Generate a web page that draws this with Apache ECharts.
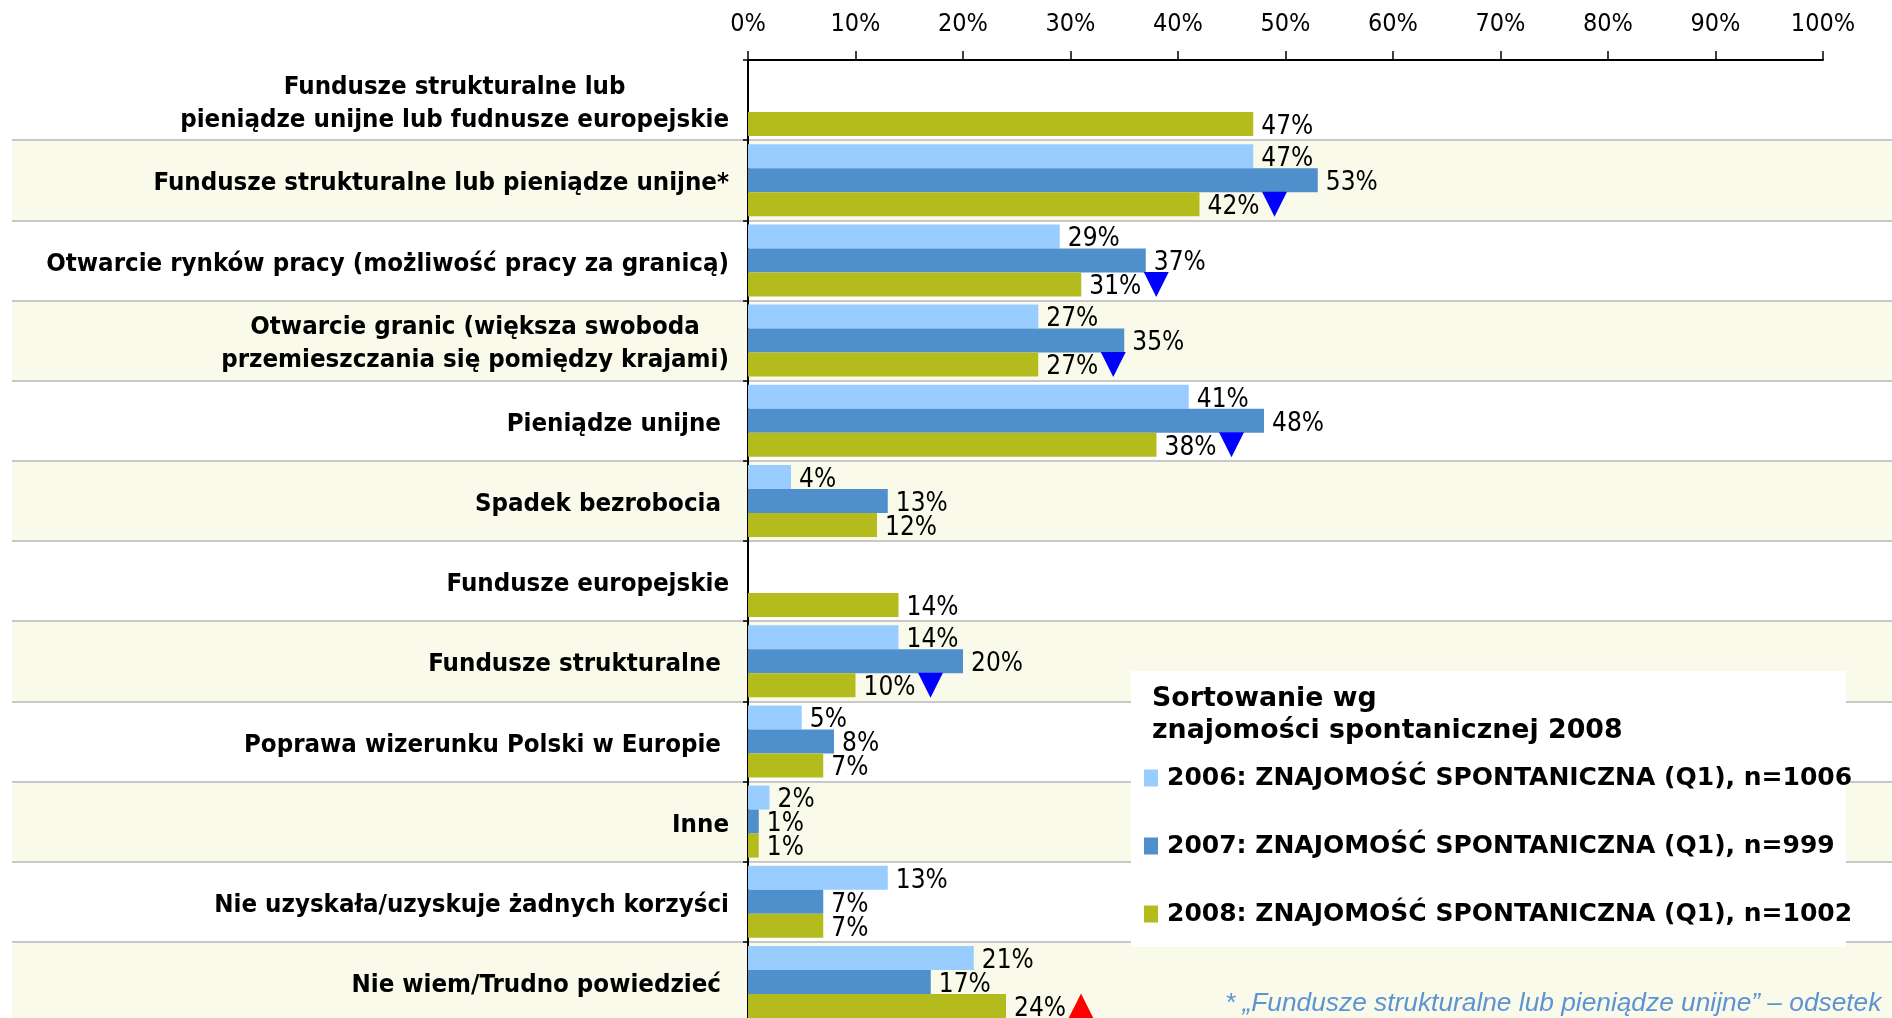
<!DOCTYPE html>
<html>

<head>
    <meta charset="utf-8" />
    <script src="https://cdn.jsdelivr.net/npm/echarts@6/dist/echarts.min.js"></script>
    <style>
        html, body { margin: 0; padding: 0; background: #fff; }
    </style>
</head>

<body>
    <div id="main" style="width: 1892px;height:1018px;"></div>
    <script type="text/javascript">
        const CATEGORIES = [
            'Fundusze strukturalne lub\npieniądze unijne lub fudnusze europejskie',
            'Fundusze strukturalne lub pieniądze unijne*',
            'Otwarcie rynków pracy (możliwość pracy za granicą)',
            'Otwarcie granic (większa swoboda\nprzemieszczania się pomiędzy krajami)',
            'Pieniądze unijne ',
            'Spadek bezrobocia ',
            'Fundusze europejskie',
            'Fundusze strukturalne ',
            'Poprawa wizerunku Polski w Europie ',
            'Inne',
            'Nie uzyskała/uzyskuje żadnych korzyści',
            'Nie wiem/Trudno powiedzieć '
        ];
        const SERIES_NAMES = [
            '2006: ZNAJOMOŚĆ SPONTANICZNA (Q1), n=1006',
            '2007: ZNAJOMOŚĆ SPONTANICZNA (Q1), n=999',
            '2008: ZNAJOMOŚĆ SPONTANICZNA (Q1), n=1002'
        ];
        const VALUES_2006 = [null, 47, 29, 27, 41, 4, null, 14, 5, 2, 13, 21];
        const VALUES_2007 = [null, 53, 37, 35, 48, 13, null, 20, 8, 1, 7, 17];
        const VALUES_2008 = [47, 42, 31, 27, 38, 12, 14, 10, 7, 1, 7, 24];
        // change of 2008 vs 2007 marked with a triangle
        const TREND_2008 = [null, 'down', 'down', 'down', 'down', null, null, 'down', null, null, null, 'up'];
        const LEGEND_TITLE = 'Sortowanie wg\nznajomości spontanicznej 2008';
        const FOOTNOTE = '* \u201EFundusze strukturalne lub pieni\u0105dze unijne\u201D \u2013 odsetek';

        const COLORS = ['#99CCFF', '#4F8FCC', '#B3BB1D'];
        const NARROW = "'DejaVu Sans Condensed', 'DejaVu Sans', sans-serif";
        const WIDE = "'DejaVu Sans', sans-serif";

        const GRID_TOP = 60;
        const GRID_BOTTOM = -4;

        function barSeries(i, values) {
            return {
                name: SERIES_NAMES[i],
                type: 'bar',
                xAxisIndex: 1,
                yAxisIndex: 1,
                barWidth: 24,
                barGap: '0%',
                itemStyle: { color: COLORS[i] },
                label: {
                    show: true,
                    position: 'right',
                    distance: 8,
                    offset: [0, 3],
                    formatter: '{c}%',
                    fontFamily: NARROW,
                    fontSize: 26,
                    color: '#000'
                },
                data: values
            };
        }

        const trendData = [];
        TREND_2008.forEach((t, i) => {
            if (!t) return;
            trendData.push({
                value: [VALUES_2008[i], CATEGORIES[i]],
                symbolRotate: t === 'down' ? 180 : 0,
                itemStyle: { color: t === 'down' ? '#0000FF' : '#FF0000', opacity: 1 }
            });
        });

        const myChart = echarts.init(document.getElementById('main'));
        myChart.setOption({
            backgroundColor: '#fff',
            animation: false,
            title: {
                text: LEGEND_TITLE,
                left: 1152,
                top: 683,
                padding: 0,
                z: 6,
                textStyle: { fontFamily: WIDE, fontWeight: 'bold', fontSize: 26.8, lineHeight: 32, color: '#000' }
            },
            legend: {
                data: SERIES_NAMES,
                orient: 'vertical',
                left: 1139,
                top: 760,
                itemWidth: 14,
                itemHeight: 17,
                itemGap: 42,
                icon: 'rect',
                selectedMode: false,
                z: 5,
                textStyle: { fontFamily: WIDE, fontWeight: 'bold', fontSize: 25, lineHeight: 26, color: '#000', padding: [0, 0, 0, 4] }
            },
            grid: [
                // full-width stripes behind the rows
                { left: 12, right: 0, top: GRID_TOP, bottom: GRID_BOTTOM, outerBoundsMode: 'none' },
                { left: 748, right: 69, top: GRID_TOP, bottom: GRID_BOTTOM, outerBoundsMode: 'none' }
            ],
            xAxis: [
                { type: 'value', gridIndex: 0, show: false, min: 0, max: 100 },
                {
                    type: 'value',
                    gridIndex: 1,
                    position: 'top',
                    min: 0,
                    max: 100,
                    interval: 10,
                    z: 1,
                    axisLine: { show: true, lineStyle: { color: '#000', width: 2 } },
                    axisTick: { show: true, length: 9, lineStyle: { color: '#000', width: 1.5 } },
                    splitLine: { show: false },
                    axisLabel: { formatter: '{value}%', margin: 23, fontFamily: NARROW, fontSize: 25, color: '#000' }
                }
            ],
            yAxis: [
                {
                    type: 'category',
                    gridIndex: 0,
                    inverse: true,
                    data: CATEGORIES,
                    z: 0,
                    axisLine: { show: false },
                    axisTick: { show: false },
                    axisLabel: { show: false },
                    splitArea: { show: true, areaStyle: { color: ['#FFFFFF', '#FAFAEA'] } },
                    splitLine: { show: true, showMinLine: false, lineStyle: { color: '#C8C8C8', width: 2 } }
                },
                {
                    type: 'category',
                    gridIndex: 1,
                    inverse: true,
                    data: CATEGORIES,
                    z: 1,
                    axisLine: { show: true, lineStyle: { color: '#000', width: 2 } },
                    axisTick: { show: true, length: 5, lineStyle: { color: '#000', width: 1.5 } },
                    splitLine: { show: false },
                    axisLabel: {
                        margin: 19,
                        padding: [7, 0, 0, 0],
                        fontFamily: NARROW,
                        fontWeight: 'bold',
                        fontSize: 25.6,
                        lineHeight: 33,
                        color: '#000',
                        formatter: function (value) {
                            if (value.indexOf('\n') < 0) return value;
                            return value.split('\n').map(l => '{c|' + l + '}').join('\n');
                        },
                        rich: {
                            c: { align: 'center', fontFamily: NARROW, fontWeight: 'bold', fontSize: 25.6, lineHeight: 33, color: '#000' }
                        }
                    }
                }
            ],
            graphic: [
                {
                    type: 'rect',
                    left: 1131,
                    top: 671,
                    z: 3,
                    shape: { width: 715, height: 276 },
                    style: { fill: '#FFFFFF' }
                },
                {
                    type: 'text',
                    left: 1225,
                    top: 991,
                    z: 3,
                    style: { text: FOOTNOTE, font: 'italic 26.3px "Liberation Sans", sans-serif', fill: '#5B93D3' }
                }
            ],
            series: [
                barSeries(0, VALUES_2006),
                barSeries(1, VALUES_2007),
                barSeries(2, VALUES_2008),
                {
                    name: 'trend',
                    type: 'scatter',
                    xAxisIndex: 1,
                    yAxisIndex: 1,
                    symbol: 'triangle',
                    symbolSize: [25, 25],
                    symbolOffset: [75, 24],
                    z: 3,
                    data: trendData
                }
            ]
        });
    </script>
</body>

</html>
